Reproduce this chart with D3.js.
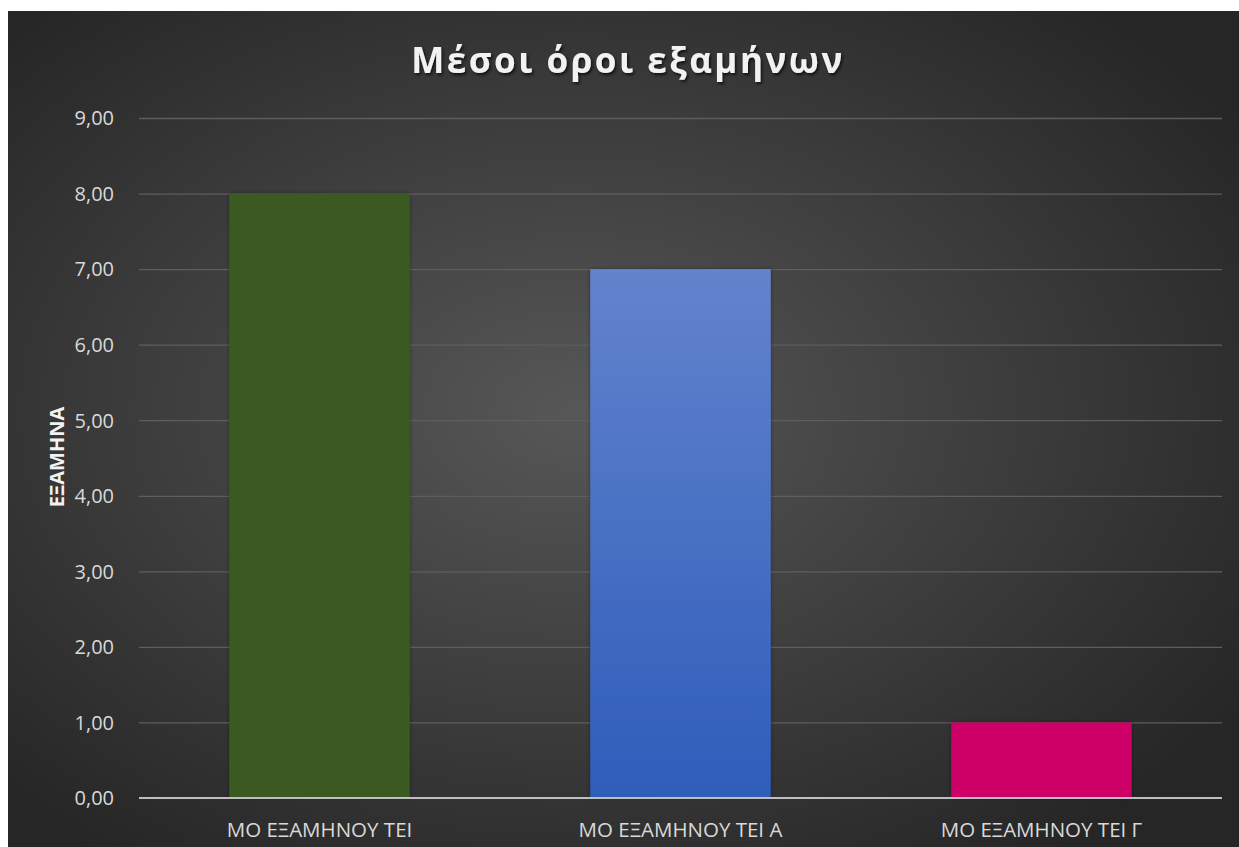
<!DOCTYPE html>
<html>
<head>
<meta charset="utf-8">
<script src="https://cdn.jsdelivr.net/npm/d3@7"></script>
<style>
  html, body { margin: 0; padding: 0; background: #ffffff; }
  svg { display: block; }
</style>
</head>
<body>
<svg id="chart" width="1239" height="847"></svg>
<script>
// Semester averages
const categories = ["ΜΟ ΕΞΑΜΗΝΟΥ ΤΕΙ", "ΜΟ ΕΞΑΜΗΝΟΥ ΤΕΙ Α", "ΜΟ ΕΞΑΜΗΝΟΥ ΤΕΙ Γ"];
const values = [8, 7, 1];
const yTicks = [0, 1, 2, 3, 4, 5, 6, 7, 8, 9];
const titleText = "Μέσοι όροι εξαμήνων";
const yAxisTitle = "ΕΞΑΜΗΝΑ";

const svg = d3.select("#chart");
const W = 1239, H = 847;
const frame = { x: 8, y: 11, w: W - 8, h: H - 11 };
const margin = { left: 139, right: 17, top: 118, bottom: 49 };
const fontFamily = "'Open Sans', 'Noto Sans', sans-serif";

const defs = svg.append("defs");

// Dark background with a lighter centre
const bg = defs.append("radialGradient").attr("id", "bg")
  .attr("cx", "46%").attr("cy", "48%").attr("r", "65%");
bg.append("stop").attr("offset", "0%").attr("stop-color", "#575757");
bg.append("stop").attr("offset", "100%").attr("stop-color", "#262626");

const blue = defs.append("linearGradient").attr("id", "blueGrad")
  .attr("x1", 0).attr("y1", 0).attr("x2", 0).attr("y2", 1);
blue.append("stop").attr("offset", "0%").attr("stop-color", "#6383cd");
blue.append("stop").attr("offset", "100%").attr("stop-color", "#2e5dba");

const shadow = defs.append("filter").attr("id", "textShadow")
  .attr("x", "-10%").attr("y", "-30%").attr("width", "120%").attr("height", "160%");
shadow.append("feDropShadow").attr("dx", 1.5).attr("dy", 2).attr("stdDeviation", 1.5)
  .attr("flood-color", "#000").attr("flood-opacity", 0.7);

const barShadow = defs.append("filter").attr("id", "barShadow")
  .attr("x", "-10%").attr("y", "-10%").attr("width", "120%").attr("height", "120%");
barShadow.append("feDropShadow").attr("dx", 0).attr("dy", 0).attr("stdDeviation", 2)
  .attr("flood-color", "#000").attr("flood-opacity", 0.35);

svg.append("rect")
  .attr("x", frame.x).attr("y", frame.y)
  .attr("width", frame.w).attr("height", frame.h)
  .attr("fill", "url(#bg)");

const x = d3.scaleBand()
  .domain(categories)
  .range([margin.left, W - margin.right])
  .paddingInner(0.5).paddingOuter(0.25);

const y = d3.scaleLinear()
  .domain([0, 9])
  .range([H - margin.bottom, margin.top]);

const fmt = v => d3.format(".2f")(v).replace(".", ",");

// Gridlines
svg.append("g")
  .attr("transform", `translate(${margin.left},0)`)
  .call(d3.axisLeft(y).tickValues(yTicks.filter(t => t > 0))
    .tickSize(-(W - margin.left - margin.right)).tickFormat(""))
  .call(g => g.select(".domain").remove())
  .call(g => g.selectAll(".tick line")
    .attr("stroke", "#5e5e5e").attr("stroke-width", 1.3));

// Y tick labels
svg.append("g")
  .attr("transform", `translate(${margin.left - 22},0)`)
  .call(d3.axisLeft(y).tickValues(yTicks).tickSize(0).tickFormat(fmt))
  .call(g => g.select(".domain").remove())
  .call(g => g.selectAll("text")
    .attr("fill", "#d9d9d9")
    .attr("font-family", fontFamily)
    .attr("font-size", 20)
    .attr("dy", "0.34em"));

const barColors = ["#3b5a23", "url(#blueGrad)", "#cc0066"];

svg.append("g").selectAll("rect")
  .data(values)
  .join("rect")
  .attr("x", (d, i) => x(categories[i]))
  .attr("y", d => y(d))
  .attr("width", x.bandwidth())
  .attr("height", d => y(0) - y(d))
  .attr("fill", (d, i) => barColors[i])
  .attr("filter", "url(#barShadow)");

// Baseline and category labels
svg.append("g")
  .attr("transform", `translate(0,${y(0)})`)
  .call(d3.axisBottom(x).tickSize(0).tickPadding(24))
  .call(g => g.select(".domain")
    .attr("stroke", "#bfbfbf").attr("stroke-width", 2)
    .attr("d", `M${margin.left},0H${W - margin.right}`))
  .call(g => g.selectAll("text")
    .attr("fill", "#d9d9d9")
    .attr("font-family", fontFamily)
    .attr("font-size", 20.5));

// Title
svg.append("text")
  .attr("x", 628).attr("y", 73)
  .attr("text-anchor", "middle")
  .attr("fill", "#f2f2f2")
  .attr("font-family", fontFamily)
  .attr("font-weight", "bold")
  .attr("font-size", 35)
  .attr("letter-spacing", 2.5)
  .attr("filter", "url(#textShadow)")
  .text(titleText);

// Y axis title
svg.append("text")
  .attr("transform", "translate(64,457) rotate(-90)")
  .attr("text-anchor", "middle")
  .attr("fill", "#f2f2f2")
  .attr("font-family", fontFamily)
  .attr("font-weight", "bold")
  .attr("font-size", 20)
  .text(yAxisTitle);
</script>
</body>
</html>
